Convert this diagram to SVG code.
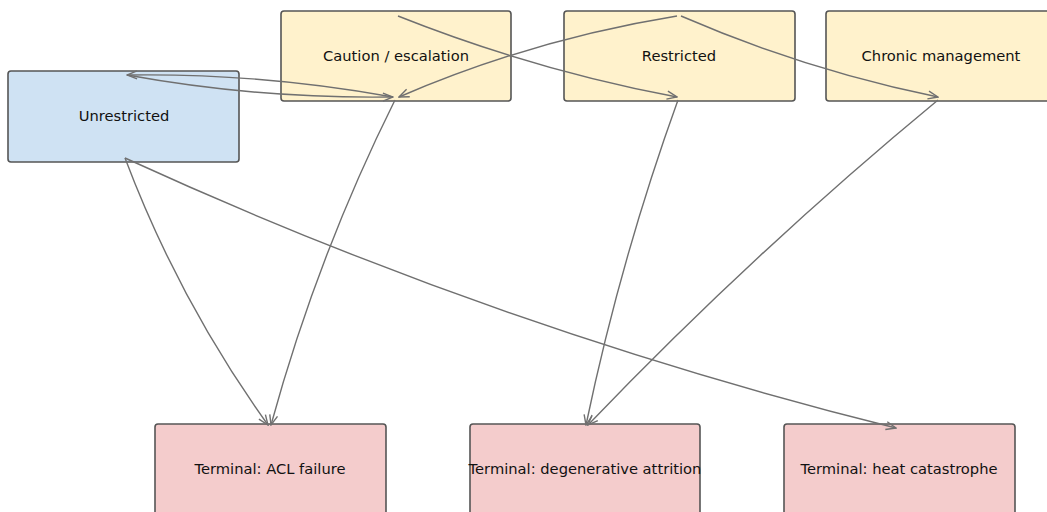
<svg xmlns="http://www.w3.org/2000/svg" width="1047" height="512" viewBox="0 0 1047 512">
<style>
.box{stroke:#555555;stroke-width:1.6}
.start{fill:#cfe2f3}
.mid{fill:#fff2cc}
.term{fill:#f4cccc}
.lbl{font-family:"DejaVu Sans",sans-serif;font-size:14.7px;fill:#111111;text-anchor:middle}
.edge{fill:none;stroke:#707070;stroke-width:1.4;marker-end:url(#arr)}
</style>
<defs>
<marker id="arr" viewBox="0 0 12 10" refX="11" refY="5" markerWidth="12" markerHeight="10" markerUnits="userSpaceOnUse" orient="auto">
<path d="M1,1 L11,5 L1,9" fill="none" stroke="#707070" stroke-width="1.4"/>
</marker>
</defs>
<rect width="1047" height="512" fill="#ffffff"/>
<g id="node-unrestricted"><rect class="box start" x="8" y="71" width="231" height="91" rx="3"/><text class="lbl" x="124" y="121">Unrestricted</text></g>
<g id="node-caution"><rect class="box mid" x="281" y="11" width="230" height="90" rx="3"/><text class="lbl" x="396" y="61">Caution / escalation</text></g>
<g id="node-restricted"><rect class="box mid" x="564" y="11" width="231" height="90" rx="3"/><text class="lbl" x="679" y="61">Restricted</text></g>
<g id="node-chronic"><rect class="box mid" x="826" y="11" width="231" height="90" rx="3"/><text class="lbl" x="941" y="61">Chronic management</text></g>
<g id="node-acl"><rect class="box term" x="155" y="424" width="231" height="92" rx="3"/><text class="lbl" x="270" y="474">Terminal: ACL failure</text></g>
<g id="node-degen"><rect class="box term" x="470" y="424" width="230" height="92" rx="3"/><text class="lbl" x="585" y="474">Terminal: degenerative attrition</text></g>
<g id="node-heat"><rect class="box term" x="784" y="424" width="231" height="92" rx="3"/><text class="lbl" x="899" y="474">Terminal: heat catastrophe</text></g>
<g id="connectors">
<path class="edge" d="M398,16 Q533.6,69.9 677,97"/>
<path class="edge" d="M677,16 Q533,39.2 399,97"/>
<path class="edge" d="M681,16 Q805.3,69.9 938,97"/>
<path class="edge" d="M127,75 Q259,99 393,97"/>
<path class="edge" d="M393,97 Q261,73 127,75"/>
<path class="edge" d="M395,100 Q317.1,256.4 271,425"/>
<path class="edge" d="M125,158 Q178.9,300.9 268,425"/>
<path class="edge" d="M125,158 Q498,328.9 896,428"/>
<path class="edge" d="M678,100 Q620.5,259.2 586,425"/>
<path class="edge" d="M938,100 Q753.5,252.3 588,425"/>
</g>
</svg>
